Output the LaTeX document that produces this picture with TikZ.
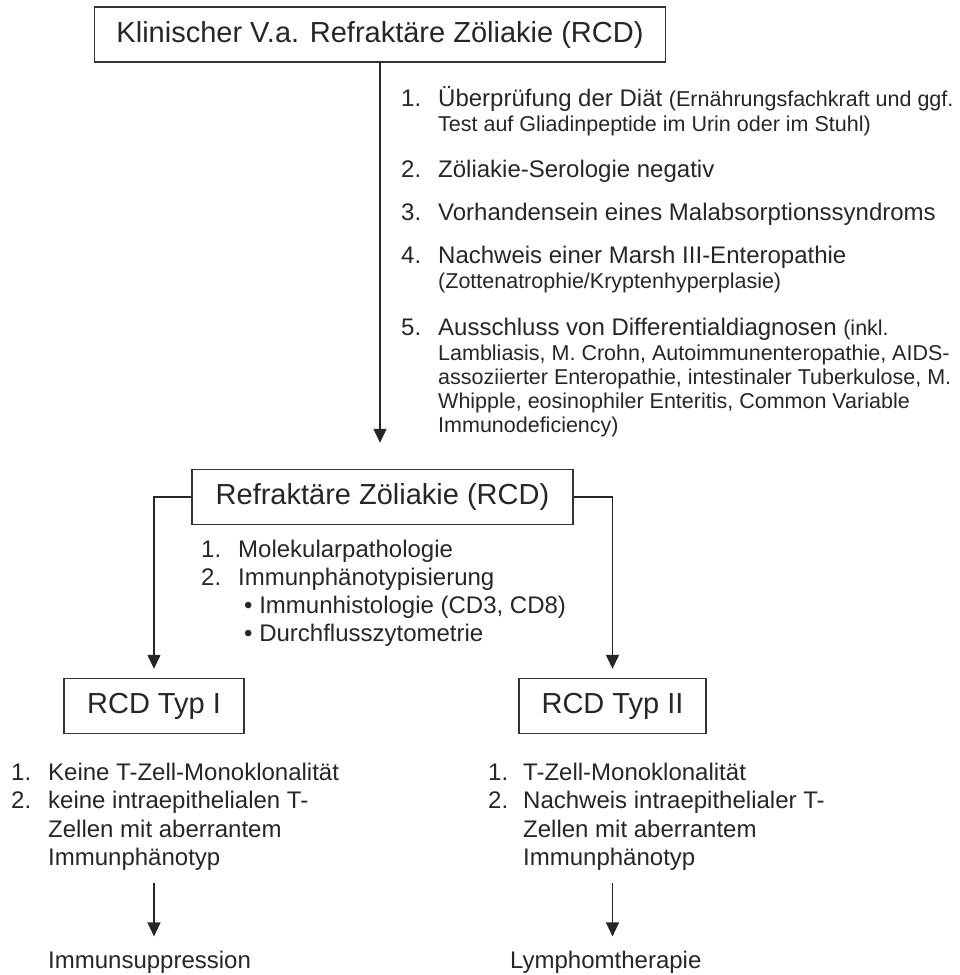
\documentclass[tikz,border=0pt]{standalone}
\usepackage{fontspec}
\setmainfont{Liberation Sans}
\usepackage{tikz}
\usetikzlibrary{arrows.meta,positioning}
\newcommand{\grossschrift}{\fontsize{29}{34}\selectfont}
\newcommand{\textschrift}{\fontsize{24}{28}\selectfont}
\newcommand{\kleinschrift}{\fontsize{21.5}{24}\selectfont}
\tikzset{
  kasten/.style={draw=black!80, line width=1.4pt, inner sep=0pt, minimum height=55pt, font=\grossschrift, text=black!85},
  zeile/.style={anchor=base west, inner sep=0pt, font=\textschrift, text=black!85},
  klein/.style={zeile, font=\kleinschrift},
  pfeil/.style={draw=black!85, line width=1.4pt, -{Triangle[width=13pt,length=14pt]}},
}

\begin{document}
\begin{tikzpicture}[x=1pt,y=-1pt]
		\useasboundingbox (0,0) rectangle (960,975);
		% kaesten
		\node[kasten, minimum width=571pt] (klin) at (380,34.5) {Klinischer V.a. Refraktäre Zöliakie (RCD)};
		\node[kasten, minimum width=381pt] (rcd) at (382.5,497) {Refraktäre Zöliakie (RCD)};
		\node[kasten, minimum width=180pt] (typ1) at (154,706) {RCD Typ I};
		\node[kasten, minimum width=187pt] (typ2) at (612.5,706) {RCD Typ II};
		% kriterien
		\node[zeile] (n1) at (401,106) {1.};
		\node[zeile] (k1) at (438,106) {Überprüfung der Diät {\kleinschrift (Ernährungsfachkraft und ggf.}};
		\node[klein] (k1b) at (438,131) {Test auf Gliadinpeptide im Urin oder im Stuhl)};
		\node[zeile] (n2) at (401,177) {2.};
		\node[zeile] (k2) at (438,177) {Zöliakie-Serologie negativ};
		\node[zeile] (n3) at (401,220) {3.};
		\node[zeile] (k3) at (438,220) {Vorhandensein eines Malabsorptionssyndroms};
		\node[zeile] (n4) at (401,263) {4.};
		\node[zeile] (k4) at (438,263) {Nachweis einer Marsh III-Enteropathie};
		\node[klein] (k4b) at (438,288) {(Zottenatrophie/Kryptenhyperplasie)};
		\node[zeile] (n5) at (401,335) {5.};
		\node[zeile] (k5) at (438,335) {Ausschluss von Differentialdiagnosen {\kleinschrift (inkl.}};
		\node[klein] (k5b) at (438,360) {Lambliasis, M. Crohn, Autoimmunenteropathie, AIDS-};
		\node[klein] (k5c) at (438,384) {assoziierter Enteropathie, intestinaler Tuberkulose, M.};
		\node[klein] (k5d) at (438,408) {Whipple, eosinophiler Enteritis, Common Variable};
		\node[klein] (k5e) at (438,432) {Immunodeficiency)};
		% diagnostik
		\node[zeile] (m1) at (201,557) {1.};
		\node[zeile] (d1) at (238,557) {Molekularpathologie};
		\node[zeile] (m2) at (201,585) {2.};
		\node[zeile] (d2) at (238,585) {Immunphänotypisierung};
		\node[zeile] (d3) at (244,613) {• Immunhistologie (CD3, CD8)};
		\node[zeile] (d4) at (244,641) {• Durchflusszytometrie};
		% typ I
		\node[zeile] (a1n) at (11,780) {1.};
		\node[zeile] (a1) at (48,780) {Keine T-Zell-Monoklonalität};
		\node[zeile] (a2n) at (11,808) {2.};
		\node[zeile] (a2) at (48,808) {keine intraepithelialen T-};
		\node[zeile] (a3) at (48,837) {Zellen mit aberrantem};
		\node[zeile] (a4) at (48,865) {Immunphänotyp};
		\node[zeile] (immun) at (48,968) {Immunsuppression};
		% typ II
		\node[zeile] (b1n) at (488,780) {1.};
		\node[zeile] (b1) at (523,780) {T-Zell-Monoklonalität};
		\node[zeile] (b2n) at (488,808) {2.};
		\node[zeile] (b2) at (523,808) {Nachweis intraepithelialer T-};
		\node[zeile] (b3) at (523,837) {Zellen mit aberrantem};
		\node[zeile] (b4) at (523,865) {Immunphänotyp};
		\node[zeile] (lymph) at (510,968) {Lymphomtherapie};
		% pfeile
		\draw[pfeil, shorten >=26pt] (klin.south) -- (klin.south |- rcd.north);
		\draw[pfeil, shorten >=9pt] (rcd.west) -| (typ1.north);
		\draw[pfeil, shorten >=9pt] (rcd.east) -| (typ2.north);
		\draw[pfeil, shorten <=13pt, shorten >=14pt] (typ1.south |- a4.south) -- (typ1.south |- immun.north);
		\draw[pfeil, shorten <=13pt, shorten >=14pt] (typ2.south |- b4.south) -- (typ2.south |- lymph.north);
	\end{tikzpicture}
\end{document}
